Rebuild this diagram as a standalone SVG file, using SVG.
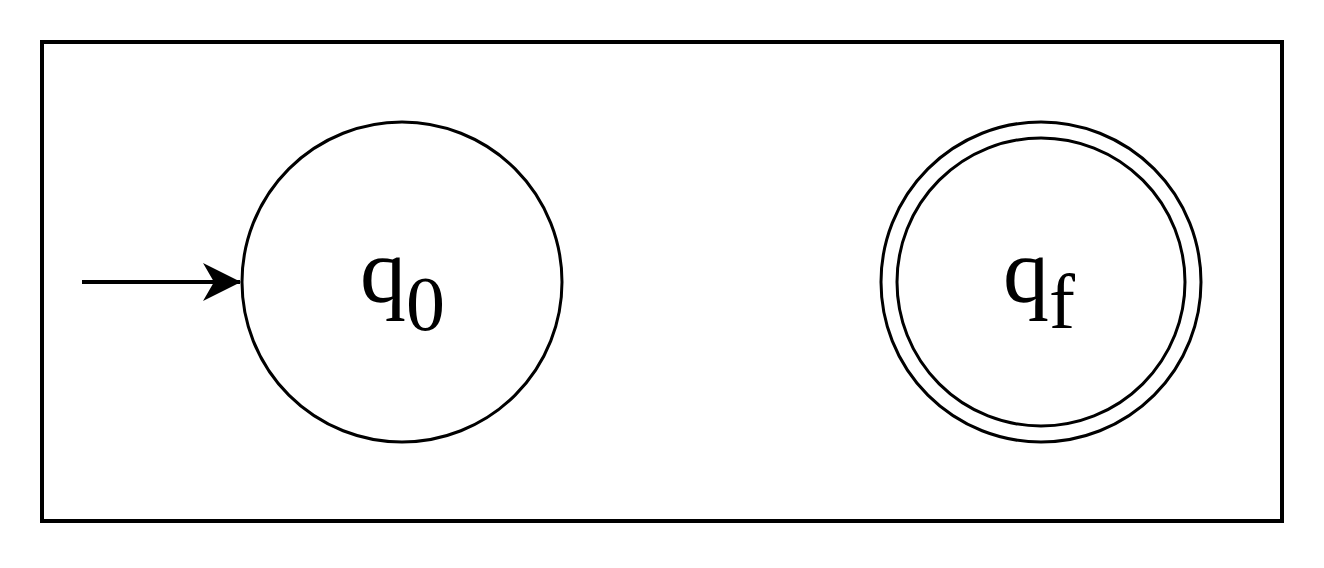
<svg xmlns="http://www.w3.org/2000/svg" width="1324" height="568" viewBox="0 0 1324 568">
<style>
.s{fill:none;stroke:#000;stroke-width:3}
.t{font-family:"Liberation Serif","Times New Roman",serif;fill:#000}
</style>
<defs>
<marker id="ah" viewBox="0 0 38 38" refX="37" refY="19" markerWidth="38" markerHeight="38" markerUnits="userSpaceOnUse" orient="auto">
<path d="M0,0 L38,19 L0,38 L11,19 Z" fill="#000"/>
</marker>
</defs>
<rect width="1324" height="568" fill="#fff"/>
<g id="frame"><rect x="42" y="42" width="1240" height="479" fill="none" stroke="#000" stroke-width="4"/></g>
<g id="q0">
<circle class="s" cx="402" cy="282" r="160"/>
<text class="t" x="360" y="302" font-size="92">q<tspan font-size="78" dy="28">0</tspan></text>
</g>
<g id="qf">
<circle class="s" cx="1041" cy="282" r="160"/>
<circle class="s" cx="1041" cy="282" r="144"/>
<text class="t" x="1003" y="302" font-size="92">q<tspan font-size="78" dy="26">f</tspan></text>
</g>
<g id="connectors">
<line x1="82" y1="282" x2="240" y2="282" fill="none" stroke="#000" stroke-width="4" marker-end="url(#ah)"/>
</g>
</svg>
